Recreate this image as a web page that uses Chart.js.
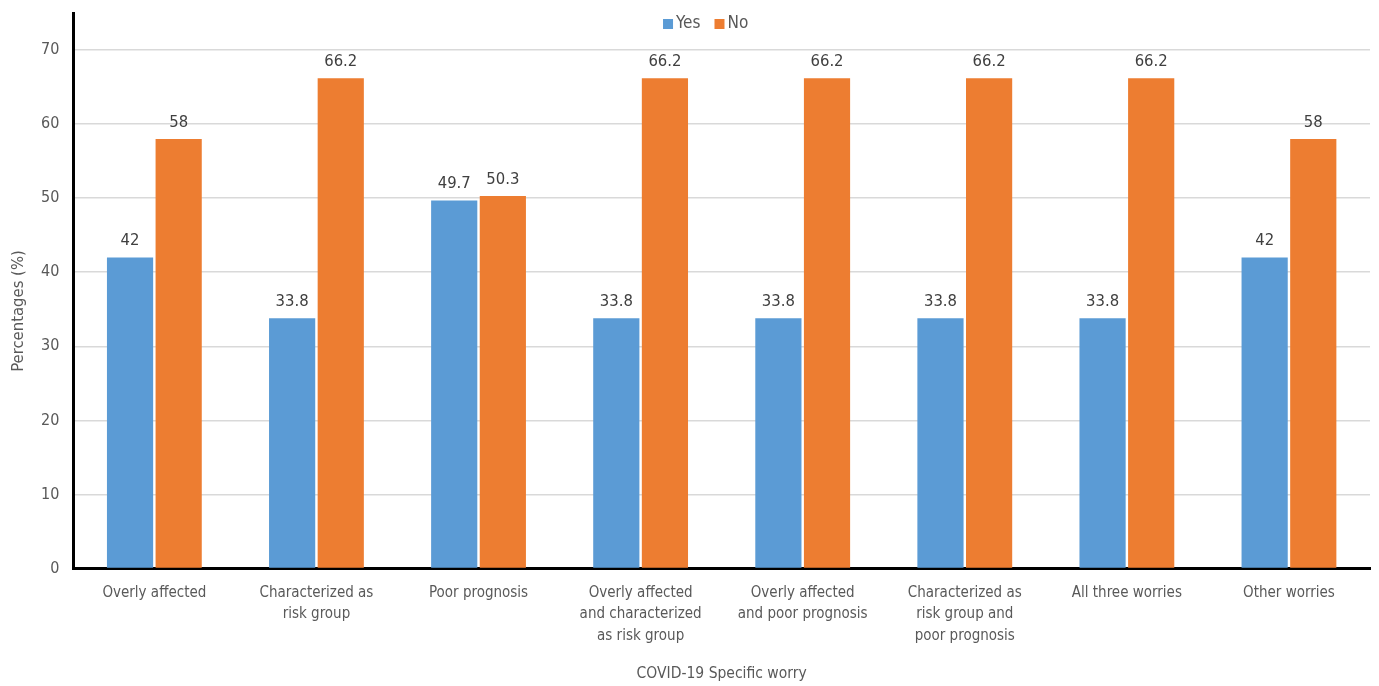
<!DOCTYPE html>
<html>
<head>
<meta charset="utf-8">
<script src="https://cdn.jsdelivr.net/npm/chart.js@4/dist/chart.umd.min.js"></script>
<style>
    html, body { margin: 0; padding: 0; background: #fff; }
    #wrap { width: 1379px; height: 686px; position: relative; }
</style>
</head>
<body>
<div id="wrap"><canvas id="worryChart"></canvas></div>
<script>
// Chart data
const categories = [
    'Overly affected',
    ['Characterized as', 'risk group'],
    'Poor prognosis',
    ['Overly affected', 'and characterized', 'as risk group'],
    ['Overly affected', 'and poor prognosis'],
    ['Characterized as', 'risk group and', 'poor prognosis'],
    'All three worries',
    'Other worries'
];
const yesValues = [42, 33.8, 49.7, 33.8, 33.8, 33.8, 33.8, 42];
const noValues = [58, 66.2, 50.3, 66.2, 66.2, 66.2, 66.2, 58];
const yTicks = [0, 10, 20, 30, 40, 50, 60, 70];

const fontFamily = "'DejaVu Sans Condensed', 'DejaVu Sans', sans-serif";
const textColor = '#595959';
const yesColor = '#5B9BD5';
const noColor = '#ED7D31';

// Value labels above bars, legend inside the plot and the y title
const extras = {
    id: 'extras',
    afterDatasetsDraw(chart) {
        const ctx = chart.ctx;
        const area = chart.chartArea;
        ctx.save();
        ctx.font = '16.5px ' + fontFamily;
        ctx.fillStyle = '#404040';
        ctx.textAlign = 'center';
        ctx.textBaseline = 'bottom';
        chart.data.datasets.forEach(function (ds, i) {
            chart.getDatasetMeta(i).data.forEach(function (bar, j) {
                ctx.fillText(String(ds.data[j]), bar.x, bar.y - 8);
            });
        });

        // legend
        ctx.font = '17px ' + fontFamily;
        ctx.textAlign = 'left';
        ctx.textBaseline = 'middle';
        const items = chart.data.datasets.map(function (ds) {
            return { text: ds.label, color: ds.backgroundColor, w: ctx.measureText(ds.label).width };
        });
        const total = items.reduce(function (a, it) { return a + 13 + it.w; }, 0) + 14 * (items.length - 1);
        let x = (area.left + area.right) / 2 - 16 - total / 2;
        const y = 24;
        items.forEach(function (it) {
            ctx.fillStyle = it.color;
            ctx.fillRect(x, y - 5, 10, 10);
            ctx.fillStyle = textColor;
            ctx.fillText(it.text, x + 13, y);
            x += 13 + it.w + 14;
        });

        // y axis title
        ctx.font = '16.5px ' + fontFamily;
        ctx.translate(19, 311);
        ctx.rotate(-Math.PI / 2);
        ctx.textAlign = 'center';
        ctx.fillText('Percentages (%)', 0, 0);
        ctx.restore();
    }
};

new Chart(document.getElementById('worryChart'), {
    type: 'bar',
    data: {
        labels: categories,
        datasets: [
            {
                label: 'Yes',
                data: yesValues,
                backgroundColor: yesColor,
                categoryPercentage: 0.6,
                barPercentage: 0.95
            },
            {
                label: 'No',
                data: noValues,
                backgroundColor: noColor,
                categoryPercentage: 0.6,
                barPercentage: 0.95
            }
        ]
    },
    options: {
        responsive: true,
        maintainAspectRatio: false,
        animation: false,
        layout: {
            padding: { top: 13, right: 9, bottom: 3, left: 27 }
        },
        plugins: {
            legend: { display: false },
            tooltip: { enabled: false }
        },
        scales: {
            x: {
                grid: { display: false },
                border: { color: '#000', width: 3 },
                ticks: {
                    color: textColor,
                    maxRotation: 0,
                    autoSkip: false,
                    padding: 6,
                    font: { family: fontFamily, size: 15, lineHeight: 1.42 }
                },
                title: {
                    display: true,
                    text: 'COVID-19 Specific worry',
                    color: textColor,
                    font: { family: fontFamily, size: 15.5 },
                    padding: { top: 12, bottom: 0 }
                }
            },
            y: {
                min: 0,
                max: 75,
                afterBuildTicks: function (axis) {
                    axis.ticks = yTicks.map(function (v) { return { value: v }; });
                },
                afterFit: function (axis) {
                    axis.paddingTop = 0;
                },
                grid: { color: '#d9d9d9', lineWidth: 1.5, drawTicks: false },
                border: { color: '#000', width: 3 },
                ticks: {
                    color: textColor,
                    padding: 14,
                    font: { family: fontFamily, size: 16 }
                }
            }
        }
    },
    plugins: [extras]
});
</script>
</body>
</html>
